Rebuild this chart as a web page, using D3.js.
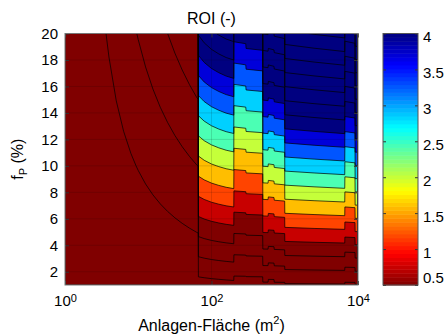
<!DOCTYPE html>
<html>
<head>
<meta charset="utf-8">
<script src="https://cdn.jsdelivr.net/npm/d3@7"></script>
<style>
  body { margin: 0; background: #fff; }
  svg { display: block; font-family: "Liberation Sans", Arial, sans-serif; }
</style>
</head>
<body>
<svg id="chart" width="447" height="336"></svg>
<script>
// grid: columns are log10(area / m²), rows are f_P (%)
const areaExp = [0, 0.1, 0.2, 0.3, 0.4, 0.5, 0.6, 0.7, 0.8, 0.9, 1.0, 1.1, 1.2, 1.3, 1.4, 1.5, 1.6, 1.7, 1.8, 1.819,
  1.821, 1.9, 2.0, 2.1, 2.2, 2.304,
  2.306, 2.468, 2.472, 2.699,
  2.701, 2.772, 2.776, 2.853, 2.857, 2.999,
  3.001, 3.4, 3.819,
  3.821, 3.959,
  3.961, 4.0];
const fpRows = [1, 10, 20];
const roiFp1 = [-0.92, -0.92, -0.918, -0.913, -0.908, -0.903, -0.898, -0.893, -0.888, -0.883, -0.878, -0.873, -0.868, -0.863, -0.858, -0.853, -0.848, -0.843, -0.838, -0.837,
  -0.680, -0.666, -0.650, -0.637, -0.625, -0.613,
  -0.686, -0.684, -0.679, -0.677,
  -0.584, -0.583, -0.653, -0.651, -0.581, -0.578,
  -0.550, -0.544, -0.539,
  -0.586, -0.583,
  -0.525, -0.525];
const roiFp10 = [-0.92, -0.92, -0.895, -0.845, -0.795, -0.745, -0.695, -0.645, -0.595, -0.545, -0.495, -0.445, -0.395, -0.345, -0.295, -0.245, -0.195, -0.145, -0.095, -0.088,
  1.804, 1.890, 1.969, 2.027, 2.075, 2.110,
  1.663, 1.683, 1.733, 1.753,
  2.44, 2.45, 2.38, 2.40, 2.47, 2.50,
  3.005, 3.065, 3.12,
  2.735, 2.765,
  3.255, 3.255];
const roiFp20 = [-0.92, -0.92, -0.87, -0.77, -0.67, -0.57, -0.47, -0.37, -0.27, -0.17, -0.07, 0.03, 0.13, 0.23, 0.329, 0.43, 0.53, 0.63, 0.73, 0.744,
  4.564, 4.730, 4.879, 4.987, 5.075, 5.136,
  4.273, 4.313, 4.413, 4.453,
  5.80, 5.82, 5.75, 5.79, 5.86, 5.92,
  6.955, 7.075, 7.185,
  6.425, 6.485,
  7.455, 7.455];
const levels = [-0.93, -0.51, -0.09, 0.33, 0.75, 1.17, 1.59, 2.01, 2.43, 2.85, 3.27, 3.69, 4.11, 4.53, 4.95, 5.37, 5.79, 6.21, 6.63, 7.05];
const xTicks = [1, 100, 10000];
const yTicks = [2, 4, 6, 8, 10, 12, 14, 16, 18, 20];
const cbTicks = [0.5, 1, 1.5, 2, 2.5, 3, 3.5, 4];

const plot = { left: 65, right: 358, top: 33.5, bottom: 285 };
const cbar = { left: 383, right: 418 };

const svg = d3.select("#chart");
const x = d3.scaleLog().domain([1, 1e4]).range([plot.left, plot.right]);
const y = d3.scaleLinear().domain([1, 20]).range([plot.bottom, plot.top]);

// matlab jet, flipped so that low ROI is dark red
function jet(t) {
  const c = v => Math.round(255 * Math.max(0, Math.min(1, v)));
  return d3.rgb(c(1.5 - Math.abs(4 * t - 3)), c(1.5 - Math.abs(4 * t - 2)), c(1.5 - Math.abs(4 * t - 1)));
}
const cmin = 0.5, cmax = 4;
const color = v => jet(1 - Math.max(0, Math.min(1, (v - cmin) / (cmax - cmin))));

// contours on the index grid
const nx = areaExp.length, ny = fpRows.length;
const values = [roiFp1, roiFp10, roiFp20].flat();
const bands = d3.contours().size([nx, ny]).thresholds(levels)(values);

// contour coords are in cell units (value i sits at i + 0.5), map them back onto the nodes
function nodePos(u, nodes) {
  const i = Math.max(0, Math.min(nodes.length - 1, u - 0.5));
  const k = Math.min(Math.floor(i), nodes.length - 2);
  return nodes[k] + (nodes[k + 1] - nodes[k]) * (i - k);
}
const path = d3.geoPath(d3.geoTransform({
  point(u, v) {
    this.stream.point(x(Math.pow(10, nodePos(u, areaExp))), y(nodePos(v, fpRows)));
  }
}));

svg.append("defs").append("clipPath").attr("id", "plotClip")
  .append("rect")
  .attr("x", plot.left).attr("y", plot.top)
  .attr("width", plot.right - plot.left).attr("height", plot.bottom - plot.top);

const g = svg.append("g").attr("clip-path", "url(#plotClip)");

g.append("rect")
  .attr("x", plot.left).attr("y", plot.top)
  .attr("width", plot.right - plot.left).attr("height", plot.bottom - plot.top)
  .attr("fill", color(levels[0]));

g.selectAll("path.band").data(bands).join("path")
  .attr("class", "band")
  .attr("d", path)
  .attr("fill", d => color(d.value))
  .attr("fill-rule", "evenodd");

// grid
g.selectAll("line.hgrid").data(yTicks).join("line")
  .attr("x1", plot.left).attr("x2", plot.right)
  .attr("y1", d => y(d)).attr("y2", d => y(d))
  .attr("stroke", "#000").attr("stroke-opacity", 0.13);
g.selectAll("line.vgrid").data(xTicks).join("line")
  .attr("x1", d => x(d)).attr("x2", d => x(d))
  .attr("y1", plot.top).attr("y2", plot.bottom)
  .attr("stroke", "#000").attr("stroke-opacity", 0.13);

g.selectAll("path.iso").data(bands).join("path")
  .attr("class", "iso")
  .attr("d", path)
  .attr("fill", "none")
  .attr("stroke", "#000")
  .attr("stroke-width", 0.7);

// axes
const tickFont = 15;
const xAxis = svg.append("g")
  .attr("transform", `translate(0,${plot.bottom})`)
  .call(d3.axisBottom(x).tickValues(xTicks).tickSizeInner(-4).tickSizeOuter(0).tickFormat(""));
xAxis.selectAll(".tick").append("text")
  .attr("y", 21).attr("fill", "#000")
  .attr("text-anchor", "middle")
  .attr("font-size", tickFont)
  .each(function(d) {
    const t = d3.select(this);
    t.append("tspan").text("10");
    t.append("tspan").attr("dy", -4.5).attr("font-size", 11).text(Math.round(Math.log10(d)));
  });

const yAxis = svg.append("g")
  .attr("transform", `translate(${plot.left},0)`)
  .call(d3.axisLeft(y).tickValues(yTicks).tickSizeInner(-4).tickSizeOuter(0).tickPadding(7));
yAxis.selectAll("text").attr("font-size", tickFont).attr("fill", "#000");

svg.append("g").attr("transform", `translate(0,${plot.top})`)
  .call(d3.axisTop(x).tickValues(xTicks).tickSizeInner(-4).tickSizeOuter(0).tickFormat(""));
svg.append("g").attr("transform", `translate(${plot.right},0)`)
  .call(d3.axisRight(y).tickValues(yTicks).tickSizeInner(-4).tickSizeOuter(0).tickFormat(""));

svg.selectAll(".domain").remove();
svg.selectAll(".tick line").attr("stroke", "#333");

svg.append("rect")
  .attr("x", plot.left).attr("y", plot.top)
  .attr("width", plot.right - plot.left).attr("height", plot.bottom - plot.top)
  .attr("fill", "none").attr("stroke", "#777");

// colorbar
const cy = d3.scaleLinear().domain([cmin, cmax]).range([plot.bottom, plot.top]);
const nColors = 64;
const step = (cmax - cmin) / nColors;
svg.append("g").selectAll("rect").data(d3.range(nColors)).join("rect")
  .attr("x", cbar.left).attr("width", cbar.right - cbar.left)
  .attr("y", k => cy(cmin + (k + 1) * step))
  .attr("height", k => cy(cmin + k * step) - cy(cmin + (k + 1) * step) + 0.5)
  .attr("fill", k => jet(1 - (k + 0.5) / nColors));

const cAxis = svg.append("g")
  .attr("transform", `translate(${cbar.right},0)`)
  .call(d3.axisRight(cy).tickValues(cbTicks).tickSizeInner(-3).tickSizeOuter(0).tickPadding(5).tickFormat(d3.format("~g")));
cAxis.selectAll("text").attr("font-size", tickFont).attr("fill", "#000")
  .attr("dy", d => d === cmin ? "-0.15em" : "0.55em");
svg.append("g").attr("transform", `translate(${cbar.left},0)`)
  .call(d3.axisLeft(cy).tickValues(cbTicks).tickSizeInner(-3).tickSizeOuter(0).tickFormat(""));
svg.selectAll(".domain").remove();
svg.selectAll(".tick line").attr("stroke", "#333");

svg.append("rect")
  .attr("x", cbar.left).attr("y", plot.top)
  .attr("width", cbar.right - cbar.left).attr("height", plot.bottom - plot.top)
  .attr("fill", "none").attr("stroke", "#555");

// labels
svg.append("text")
  .attr("x", (plot.left + plot.right) / 2).attr("y", 24)
  .attr("text-anchor", "middle").attr("font-size", 16)
  .text("ROI (-)");

const xl = svg.append("text")
  .attr("x", (plot.left + plot.right) / 2).attr("y", 330.5)
  .attr("text-anchor", "middle").attr("font-size", 16);
xl.append("tspan").text("Anlagen-Fläche (m");
xl.append("tspan").attr("dy", -6.5).attr("font-size", 11).text("2");
xl.append("tspan").attr("dy", 6.5).text(")");

const yl = svg.append("text")
  .attr("transform", `translate(23,${(plot.top + plot.bottom) / 2}) rotate(-90)`)
  .attr("text-anchor", "middle").attr("font-size", 16);
yl.append("tspan").text("f");
yl.append("tspan").attr("dy", 4).attr("font-size", 11).text("P");
yl.append("tspan").attr("dy", -4).text(" (%)");
</script>
</body>
</html>
